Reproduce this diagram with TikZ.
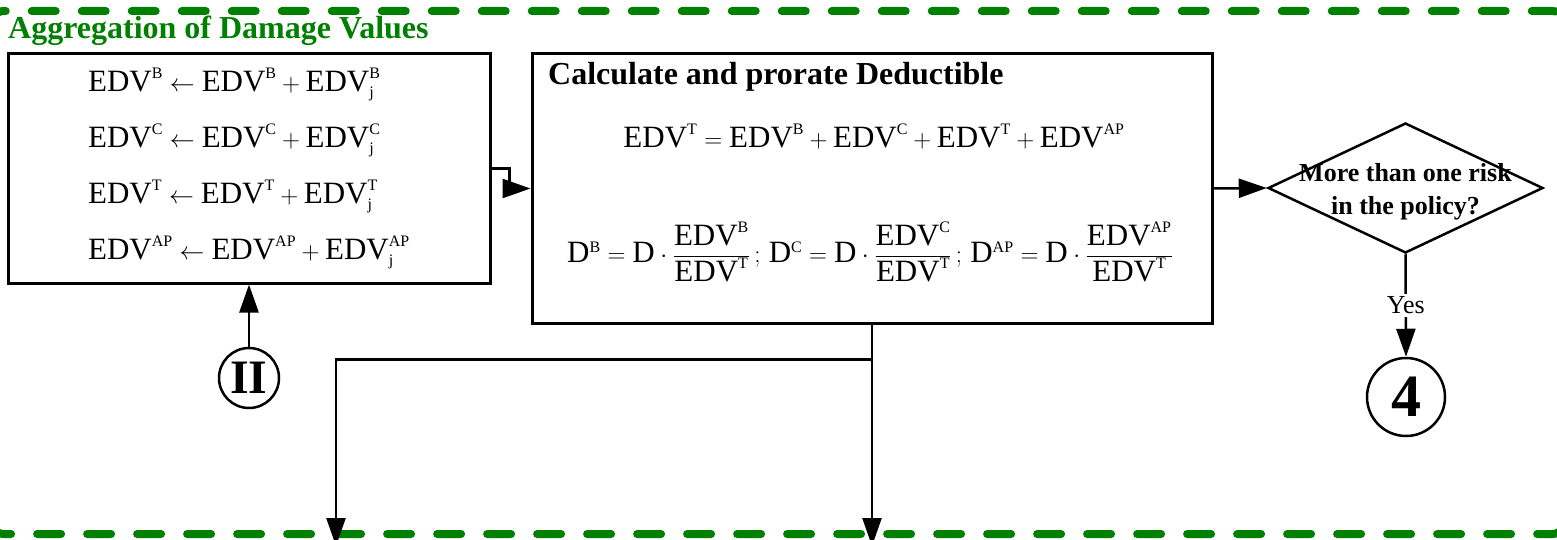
\documentclass[tikz,border=0pt]{standalone}
\usepackage{fontspec}
\setmainfont{Liberation Serif}
\usetikzlibrary{arrows.meta,shapes.geometric}

\definecolor{groupgreen}{RGB}{0,128,0}
\DeclareMathSizes{31}{31}{16}{12}

\newcommand{\edv}[1]{\mathrm{EDV}^{\mathrm{#1}}}
\newcommand{\edvj}[1]{\mathrm{EDV}^{\mathrm{#1}}_{\mathrm{j}}}
\newcommand{\dshare}[1]{\mathrm{D}^{\mathrm{#1}}=\mathrm{D}\cdot\frac{\edv{#1}}{\edv{T}}}

\begin{document}
\begin{tikzpicture}[
  x=1pt,
  y=-1pt,
  block/.style={
    draw,
    line width=3pt,
    inner sep=0pt
  },
  decision/.style={
    diamond,
    draw,
    line width=2.5pt,
    inner sep=0pt,
    minimum width=275pt,
    minimum height=130pt
  },
  connector/.style={draw,circle,line width=2.5pt,inner sep=0pt},
  groupframe/.style={
    draw=groupgreen,
    line width=8pt,
    line cap=round,
    dash pattern=on 24pt off 26pt,
    rounded corners=14pt
  },
  eqn/.style={font=\fontsize{31}{56}\selectfont},
  flow/.style={-{Triangle[length=28pt,width=19pt]},line width=2.5pt}
]
  \useasboundingbox (0,0) rectangle (1557,540);
  \clip (0,0) rectangle (1557,540);

  % dashed group frame and its title
  \draw[groupframe] (-10,11) rectangle (1566,534);
  \node[font=\fontsize{32}{38}\selectfont\bfseries,text=groupgreen,
        anchor=base west,inner sep=0pt] (grouptitle) at (8,39)
        {Aggregation of Damage Values};

  % running sums
  \node[block,eqn,minimum width=482pt,minimum height=229pt,align=left]
    (agg) at (249,168.5) {
      $\edv{B}\leftarrow\edv{B}+\edvj{B}$\\
      $\edv{C}\leftarrow\edv{C}+\edvj{C}$\\
      $\edv{T}\leftarrow\edv{T}+\edvj{T}$\\
      $\edv{AP}\leftarrow\edv{AP}+\edvj{AP}$
    };

  % deductible box
  \node[block,minimum width=680pt,minimum height=269pt] (calc) at (872,188.5) {};
  \node[font=\fontsize{32}{38}\selectfont\bfseries,anchor=base west,inner sep=0pt]
    (calctitle) at (548,85) {Calculate and prorate Deductible};
  \node[eqn,anchor=base] (total) at (874,148)
    {$\edv{T}=\edv{B}+\edv{C}+\edv{T}+\edv{AP}$};
  \node[eqn] (prorate) at (870,252)
    {$\displaystyle \dshare{B}\,;\,\dshare{C}\,;\,\dshare{AP}$};

  % decision
  \node[decision] (risk) at (1405.5,188) {};
  \node[font=\fontsize{26}{33}\selectfont\bfseries,align=center] (riskq)
    at (1405.5,192) {More than one risk\\in the policy?};

  % off-page connectors
  \node[connector,minimum size=78pt,font=\fontsize{60}{60}\selectfont\bfseries]
    (four) at (1406,397) {4};
  \node[connector,minimum size=60pt,font=\fontsize{48}{48}\selectfont\bfseries]
    (two) at (249,378) {II};

  \coordinate (split) at ([yshift=-35pt]calc.south);
  \coordinate (outright) at (872,546);
  \coordinate (outleft) at (336,546);

  \draw[flow] (agg.east) -- ++(18,0) |- (calc.west);
  \draw[flow] (calc.east) -- (risk.west);
  \draw[flow] (risk.south) -- node[fill=white,inner sep=3pt,
    font=\fontsize{26}{30}\selectfont] (yes) {Yes} (four.north);
  \draw[flow] (two.north) -- (agg.south);
  \draw[flow] (calc.south) -- (outright);
  \draw[flow] (split) -| (outleft);
\end{tikzpicture}
\end{document}
